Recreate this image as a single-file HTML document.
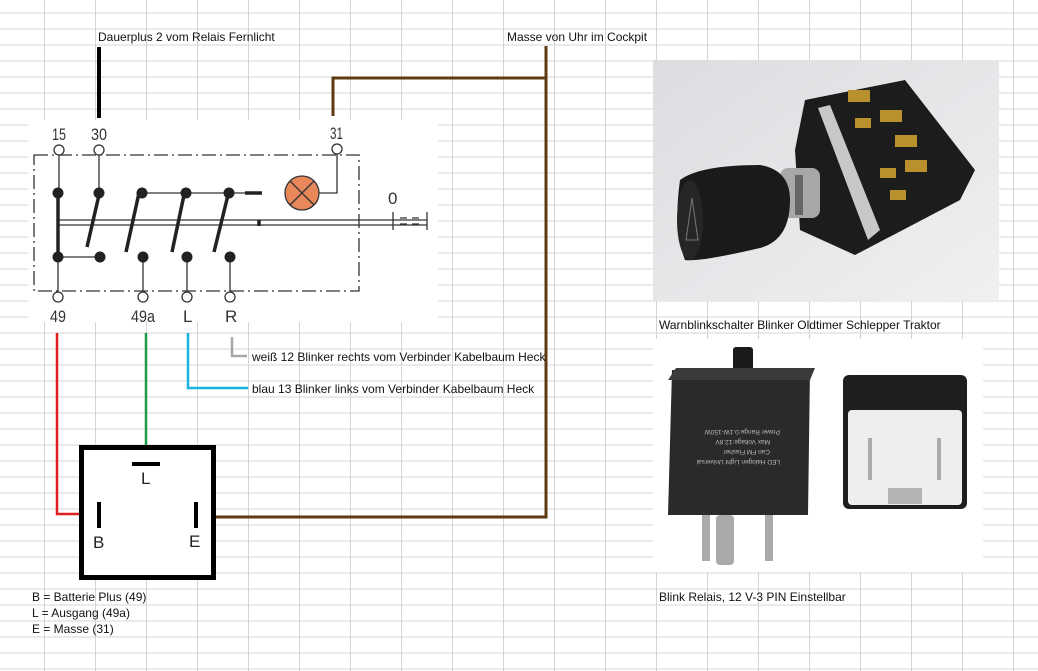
<!DOCTYPE html>
<html><head><meta charset="utf-8"><style>
html,body{margin:0;padding:0;background:#fff}
svg{display:block}
text{font-family:"Liberation Sans",sans-serif}
.t{font-size:12px;fill:#111}
.d{font-family:"Liberation Sans",sans-serif;font-size:17px;fill:#333}
</style></head><body>
<svg width="1038" height="671" viewBox="0 0 1038 671" xmlns="http://www.w3.org/2000/svg">
<defs>
<pattern id="g" x="44" y="12.5" width="51" height="16" patternUnits="userSpaceOnUse">
<path d="M0.5 0V16M0 0.5H51" stroke="#d4d4d4" stroke-width="1" fill="none"/>
</pattern>
<linearGradient id="bg1" x1="0" y1="0" x2="1" y2="1"><stop offset="0" stop-color="#dcdde0"/><stop offset="1" stop-color="#f0f0f2"/></linearGradient>
</defs>
<rect width="1038" height="671" fill="#fff"/>
<rect width="1038" height="671" fill="url(#g)"/>

<rect x="28" y="120" width="410" height="202" fill="#fff"/>
<g stroke="#333" fill="none" stroke-width="1.3">
<path d="M34 155H359V291H34Z" stroke-dasharray="14 4 2 4"/>
<circle cx="59" cy="150" r="5" fill="#fff"/>
<circle cx="99" cy="150" r="5" fill="#fff"/>
<circle cx="337" cy="149" r="5" fill="#fff"/>
<circle cx="58" cy="297" r="5" fill="#fff"/>
<circle cx="143" cy="297" r="5" fill="#fff"/>
<circle cx="187" cy="297" r="5" fill="#fff"/>
<circle cx="230" cy="297" r="5" fill="#fff"/>
<path d="M59 155V193M99 155V193M58 257V292M143 257V292M187 257V292M230 257V292M58 257H100M142 193H245M319 193H337V154"/>
<path d="M58 220H427M58 225H427"/>
<path d="M393 212V230M427 212V230M400 218H407M412 218H419M400 224H407M412 224H419"/>
</g>
<g stroke="#222" stroke-width="3.5" fill="none">
<path d="M58 193V257"/>
<path d="M99 195L87 247M139 193L126 252M184 195L172 252M228 195L214 252"/>
<path d="M245 193H262M259 220V226"/>
</g>
<g fill="#222">
<circle cx="58" cy="193" r="5.5"/><circle cx="99" cy="193" r="5.5"/><circle cx="142" cy="193" r="5.5"/><circle cx="186" cy="193" r="5.5"/><circle cx="229" cy="193" r="5.5"/>
<circle cx="58" cy="257" r="5.5"/><circle cx="100" cy="257" r="5.5"/><circle cx="143" cy="257" r="5.5"/><circle cx="187" cy="257" r="5.5"/><circle cx="230" cy="257" r="5.5"/>
</g>
<circle cx="302" cy="193" r="17" fill="#e8875a" stroke="#333" stroke-width="1.3"/>
<path d="M290 181L314 205M314 181L290 205" stroke="#333" stroke-width="1.3"/>
<text class="d" x="52" y="140" textLength="14" lengthAdjust="spacingAndGlyphs">15</text>
<text class="d" x="91" y="140" textLength="16" lengthAdjust="spacingAndGlyphs">30</text>
<text class="d" x="330" y="139" textLength="13" lengthAdjust="spacingAndGlyphs">31</text>
<text class="d" x="50" y="322" textLength="16" lengthAdjust="spacingAndGlyphs">49</text>
<text class="d" x="131" y="322" textLength="24" lengthAdjust="spacingAndGlyphs">49a</text>
<text class="d" x="183" y="322">L</text>
<text class="d" x="225" y="322">R</text>
<text class="d" x="388" y="204">0</text>

<path d="M99 47V118" stroke="#000" stroke-width="4" fill="none"/>
<path d="M333 116V78H546M546 46V517H200" stroke="#5c3a12" stroke-width="3" fill="none"/>
<path d="M57 333V514H100" stroke="#e0201f" stroke-width="2.5" fill="none"/>
<path d="M146 333V445" stroke="#1e9a48" stroke-width="2.5" fill="none"/>
<path d="M146 445V462" stroke="#333399" stroke-width="1" fill="none"/>
<path d="M188 333V388H248" stroke="#1ab4e0" stroke-width="2.5" fill="none"/>
<path d="M232 337V356H247" stroke="#a8a8a8" stroke-width="2.5" fill="none"/>

<rect x="81.5" y="447.5" width="132" height="130" fill="#fff" stroke="#000" stroke-width="5"/>
<path d="M132 464H160M99 502V528M196 502V528" stroke="#000" stroke-width="4"/>
<text x="141" y="484" style="font-size:17px;fill:#222">L</text>
<text x="93" y="548" style="font-size:17px;fill:#222">B</text>
<text x="189" y="547" style="font-size:17px;fill:#222">E</text>

<text class="t" x="98" y="41">Dauerplus 2 vom Relais Fernlicht</text>
<text class="t" x="507" y="41">Masse von Uhr im Cockpit</text>
<text class="t" x="252" y="361">weiß 12 Blinker rechts vom Verbinder Kabelbaum Heck</text>
<text class="t" x="252" y="393">blau 13 Blinker links vom Verbinder Kabelbaum Heck</text>
<text class="t" x="32" y="601">B = Batterie Plus (49)</text>
<text class="t" x="32" y="617">L = Ausgang (49a)</text>
<text class="t" x="32" y="633">E = Masse (31)</text>
<text class="t" x="659" y="329">Warnblinkschalter Blinker Oldtimer Schlepper Traktor</text>
<text class="t" x="659" y="601">Blink Relais, 12 V-3 PIN Einstellbar</text>

<rect x="653" y="60" width="346" height="241" fill="url(#bg1)"/>
<g>
<polygon points="805,100 905,80 975,170 960,200 855,255 800,230 795,150" fill="#1c1c1c"/>
<polygon points="818,108 830,105 880,230 868,240" fill="#c8c8c8"/>
<g fill="#b8902c">
<rect x="848" y="90" width="22" height="12"/><rect x="880" y="110" width="22" height="12"/><rect x="895" y="135" width="22" height="12"/><rect x="905" y="160" width="22" height="12"/>
<rect x="855" y="118" width="16" height="10"/><rect x="880" y="168" width="16" height="10"/><rect x="890" y="190" width="16" height="10"/>
</g>
<rect x="780" y="168" width="40" height="50" rx="8" fill="#a8a8a8"/>
<rect x="795" y="175" width="8" height="40" fill="#666"/>
<path d="M680 180 Q700 165 760 165 Q790 170 790 200 Q790 240 760 248 Q700 262 685 260 Q673 230 680 180Z" fill="#1a1a1a"/>
<ellipse cx="690" cy="220" rx="13" ry="40" fill="#262626"/>
<polygon points="692,198 686,240 698,240" fill="none" stroke="#777" stroke-width="1"/>
</g>

<rect x="653" y="339" width="330" height="233" fill="#fff"/>
<rect x="733" y="347" width="20" height="25" rx="3" fill="#1a1a1a"/>
<polygon points="672,370 810,369 808,515 668,515" fill="#2a2a2c"/>
<polygon points="668,380 676,368 815,368 810,380" fill="#3a3a3c"/>
<g fill="#aaa"><rect x="702" y="515" width="8" height="46"/><rect x="716" y="515" width="18" height="50" rx="4"/><rect x="765" y="515" width="8" height="46"/></g>
<g font-size="6.5" fill="#bbb" transform="rotate(180 740 440)"><text x="700" y="420">LED Halogen Light Universal</text><text x="710" y="430">Can FM Flasher</text><text x="710" y="440">Max Voltage:12.8V</text><text x="700" y="450">Power Range:0.1W-150W</text></g>
<rect x="843" y="375" width="124" height="134" rx="6" fill="#1e1e1e"/>
<rect x="848" y="410" width="114" height="95" rx="4" fill="#eeeeee"/>
<rect x="868" y="438" width="4" height="42" fill="#aaa"/><rect x="937" y="438" width="4" height="42" fill="#aaa"/>
<rect x="888" y="488" width="34" height="16" fill="#b4b4b4"/>
</svg>
</body></html>
